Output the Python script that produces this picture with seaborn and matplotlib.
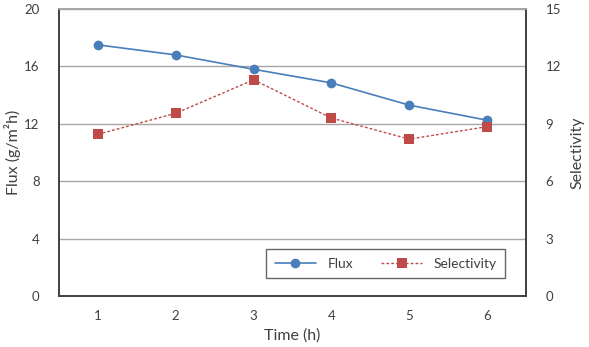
import matplotlib
matplotlib.use("Agg")
import matplotlib.pyplot as plt
import seaborn as sns
import pandas as pd

time_h = [1, 2, 3, 4, 5, 6]
flux = [17.5, 16.8, 15.8, 14.85, 13.3, 12.25]
selectivity = [8.45, 9.55, 11.3, 9.3, 8.2, 8.85]
left_ticks = [0, 4, 8, 12, 16, 20]
right_ticks = [0, 3, 6, 9, 12, 15]

sns.set_theme(style="white")
plt.rcParams['font.family'] = ['Lato', 'DejaVu Sans']

df = pd.DataFrame({"pos": [t - 1 for t in time_h], "time": time_h,
                   "flux": flux, "sel": selectivity})

fig = plt.figure(figsize=(5.89, 3.47), dpi=100)
ax = fig.add_axes([59/589, 1 - 296/347, (526-59)/589, (296-9)/347])
ax2 = ax.twinx()

blue = "#4a7ebb"
red = "#be4b48"
sns.lineplot(data=df, x="pos", y="flux", ax=ax, color=blue, marker="o",
             markersize=7, markeredgewidth=0, linewidth=1.2, label="Flux", legend=False)
sns.lineplot(data=df, x="pos", y="sel", ax=ax2, color=red, marker="s",
             markersize=7, markeredgewidth=0, linewidth=1.0, linestyle=(0, (2, 1.5)),
             label="Selectivity", legend=False)

ax.set_xlim(-0.5, 5.5)
ax.set_ylim(0, 20)
ax2.set_ylim(0, 15)
ax.set_yticks(left_ticks)
ax2.set_yticks(right_ticks)
ax.set_xticks(df["pos"])
ax.set_xticklabels([str(t) for t in time_h])
ax.grid(axis="y", color="#a6a6a6", linewidth=1.0)
ax.set_axisbelow(True)

for a in (ax, ax2):
    for s in a.spines.values():
        s.set_color("#404040")
        s.set_linewidth(1.2)
    a.spines["top"].set_color("#a6a6a6")
    a.tick_params(length=0, labelsize=9.5, colors="#404040", pad=10)
ax.tick_params(axis="y", pad=14)
ax2.tick_params(axis="y", pad=14)

ax.set_xlabel("Time (h)", fontsize=11.5, color="#404040", labelpad=5)
ax.set_ylabel("Flux (g/m\u00b2h)", fontsize=11.5, color="#404040", labelpad=2)
ax2.set_ylabel("Selectivity", fontsize=11.5, color="#404040", labelpad=7)

h1, l1 = ax.get_legend_handles_labels()
h2, l2 = ax2.get_legend_handles_labels()
leg = ax2.legend(h1 + h2, l1 + l2, ncol=2, loc="lower right",
                 bbox_to_anchor=((512-59)/467, (296-285)/287), fontsize=10,
                 frameon=True, fancybox=False, borderpad=0.6, handlelength=3,
                 columnspacing=2.0, labelcolor="#404040")
leg.get_frame().set_edgecolor("#404040")
leg.get_frame().set_linewidth(1.0)

fig.savefig("out.png", dpi=100)
